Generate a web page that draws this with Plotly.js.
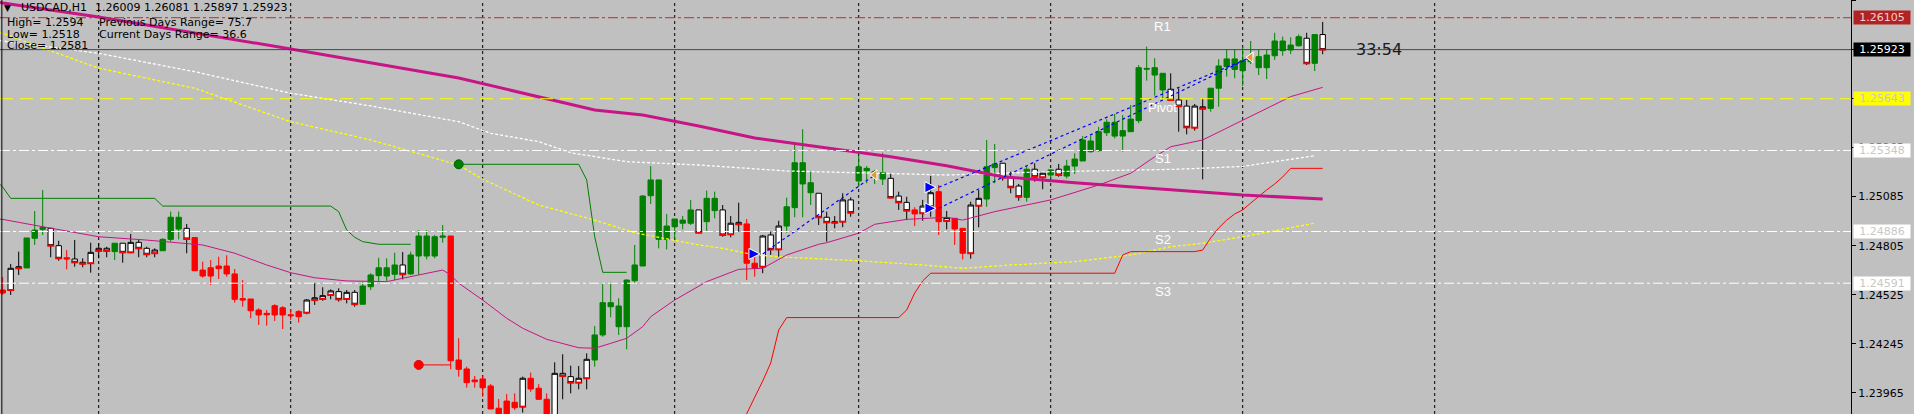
<!DOCTYPE html>
<html><head><meta charset="utf-8">
<script src="https://cdn.plot.ly/plotly-3.0.1.min.js"></script>
<style>html,body{margin:0;padding:0;background:#C0C0C0;overflow:hidden}#chart{width:1914px;height:414px}</style>
</head><body><div id="chart"></div>
<script>
// ---------------- DATA (USDCAD, H1) ----------------
const openP = [1.24552,1.24552,1.24676,1.24678,1.24847,1.24898,1.24904,1.24805,1.24736,1.24729,
1.24710,1.24705,1.24775,1.24790,1.24771,1.24819,1.24767,1.24824,1.24790,1.24762,
1.24776,1.24841,1.24967,1.24904,1.24851,1.24666,1.24632,1.24674,1.24689,1.24644,
1.24503,1.24501,1.24438,1.24411,1.24410,1.24451,1.24411,1.24400,1.24423,1.24495,
1.24501,1.24524,1.24543,1.24501,1.24539,1.24471,1.24571,1.24634,1.24679,1.24642,
1.24695,1.24644,1.24746,1.24860,1.24746,1.24853,1.24860,1.24153,1.24102,1.24029,
1.24045,1.24005,1.23878,1.23834,1.23912,1.23887,1.24049,1.23992,1.23929,1.23834,
1.24077,1.24058,1.24024,1.24049,1.24153,1.24296,1.24480,1.24461,1.24343,1.24605,
1.24689,1.25090,1.25180,1.24841,1.24913,1.24951,1.24933,1.25009,1.24942,1.25075,
1.25009,1.24870,1.24938,1.24929,1.24705,1.24685,1.24866,1.24784,1.24917,1.25022,
1.25278,1.25164,1.25104,1.24967,1.24942,1.24942,1.25066,1.25174,1.25246,1.25227,
1.25221,1.25189,1.25088,1.25052,1.25009,1.24990,1.25031,1.25113,1.24946,1.24961,
1.24904,1.24762,1.25033,1.25071,1.25250,1.25275,1.25193,1.25145,1.25081,1.25241,
1.25195,1.25208,1.25241,1.25202,1.25259,1.25288,1.25402,1.25347,1.25449,1.25509,
1.25430,1.25455,1.25518,1.25816,1.25820,1.25788,1.25697,1.25636,1.25601,1.25478,
1.25597,1.25588,1.25703,1.25826,1.25870,1.25803,1.25854,1.25883,1.25820,1.25888,
1.25972,1.25921,1.25945,1.25988,1.25845,1.26009];
const highP = [1.24626,1.24701,1.24771,1.24849,1.25003,1.25122,1.24906,1.24833,1.24780,1.24837,
1.24733,1.24822,1.24820,1.24799,1.24819,1.24819,1.24872,1.24841,1.24799,1.24790,
1.24847,1.24999,1.24999,1.24929,1.24851,1.24714,1.24723,1.24742,1.24750,1.24672,
1.24609,1.24501,1.24448,1.24438,1.24471,1.24461,1.24444,1.24438,1.24501,1.24591,
1.24568,1.24556,1.24562,1.24552,1.24552,1.24600,1.24648,1.24736,1.24733,1.24765,
1.24769,1.24771,1.24894,1.24894,1.24866,1.24923,1.24860,1.24277,1.24115,1.24062,
1.24062,1.24016,1.23931,1.23959,1.23963,1.24058,1.24081,1.24015,1.23963,1.24140,
1.24186,1.24121,1.24119,1.24191,1.24347,1.24591,1.24596,1.24505,1.24613,1.24809,
1.25094,1.25259,1.25180,1.24986,1.24957,1.24974,1.25065,1.25009,1.25119,1.25113,
1.25037,1.24974,1.25050,1.24957,1.24765,1.24866,1.24885,1.24947,1.25079,1.25389,
1.25469,1.25227,1.25104,1.24999,1.24974,1.25104,1.25081,1.25316,1.25259,1.25237,
1.25335,1.25214,1.25113,1.25084,1.25024,1.25066,1.25202,1.25151,1.25003,1.24961,
1.24904,1.25056,1.25122,1.25408,1.25385,1.25275,1.25227,1.25157,1.25259,1.25275,
1.25227,1.25241,1.25271,1.25294,1.25332,1.25430,1.25430,1.25483,1.25526,1.25556,
1.25550,1.25607,1.25835,1.25940,1.25874,1.25788,1.25788,1.25702,1.25636,1.25613,
1.25645,1.25703,1.25868,1.25925,1.25921,1.25940,1.25972,1.25921,1.25921,1.26019,
1.25997,1.25993,1.26010,1.26019,1.26012,1.26081];
const lowP = [1.24524,1.24524,1.24638,1.24678,1.24809,1.24866,1.24739,1.24719,1.24670,1.24685,
1.24682,1.24651,1.24733,1.24739,1.24723,1.24708,1.24762,1.24739,1.24739,1.24739,
1.24776,1.24828,1.24841,1.24762,1.24662,1.24622,1.24581,1.24615,1.24628,1.24480,
1.24457,1.24391,1.24353,1.24349,1.24376,1.24330,1.24381,1.24366,1.24414,1.24467,
1.24491,1.24499,1.24486,1.24476,1.24457,1.24471,1.24552,1.24604,1.24604,1.24609,
1.24613,1.24638,1.24638,1.24727,1.24733,1.24822,1.24100,1.24058,1.23995,1.23995,
1.23944,1.23874,1.23822,1.23822,1.23868,1.23853,1.23972,1.23925,1.23822,1.23822,
1.23929,1.23963,1.23986,1.23986,1.24115,1.24286,1.24397,1.24296,1.24214,1.24587,
1.24689,1.25043,1.24790,1.24784,1.24841,1.24898,1.24923,1.24876,1.24885,1.24961,
1.24856,1.24853,1.24885,1.24609,1.24628,1.24648,1.24752,1.24742,1.24879,1.24967,
1.24967,1.25037,1.24923,1.24828,1.24904,1.24910,1.24970,1.25141,1.25161,1.25157,
1.25151,1.25075,1.25009,1.24951,1.24917,1.24947,1.24970,1.24866,1.24898,1.24809,
1.24727,1.24731,1.24910,1.25027,1.25161,1.25176,1.25104,1.25061,1.25056,1.25170,
1.25127,1.25189,1.25198,1.25189,1.25214,1.25288,1.25335,1.25341,1.25430,1.25417,
1.25341,1.25455,1.25503,1.25746,1.25660,1.25645,1.25632,1.25455,1.25440,1.25461,
1.25183,1.25569,1.25597,1.25769,1.25760,1.25715,1.25841,1.25778,1.25755,1.25864,
1.25888,1.25898,1.25940,1.25835,1.25801,1.25897];
const closeP = [1.24535,1.24676,1.24685,1.24849,1.24894,1.24910,1.24805,1.24733,1.24729,1.24710,
1.24702,1.24767,1.24790,1.24775,1.24819,1.24767,1.24824,1.24790,1.24756,1.24780,
1.24841,1.24967,1.24900,1.24843,1.24662,1.24632,1.24679,1.24689,1.24644,1.24499,
1.24495,1.24434,1.24410,1.24419,1.24463,1.24410,1.24406,1.24429,1.24495,1.24508,
1.24520,1.24547,1.24499,1.24539,1.24471,1.24575,1.24638,1.24679,1.24632,1.24695,
1.24642,1.24752,1.24860,1.24746,1.24856,1.24860,1.24149,1.24100,1.24024,1.24039,
1.23995,1.23874,1.23834,1.23919,1.23881,1.24049,1.23988,1.23929,1.23834,1.24077,
1.24062,1.24024,1.24049,1.24157,1.24296,1.24480,1.24457,1.24343,1.24609,1.24695,
1.25088,1.25180,1.24841,1.24917,1.24957,1.24933,1.25009,1.24879,1.25075,1.25005,
1.24866,1.24933,1.24927,1.24705,1.24676,1.24860,1.24784,1.24917,1.25027,1.25278,
1.25157,1.25107,1.24967,1.24938,1.24936,1.25066,1.24993,1.25255,1.25233,1.25218,
1.25185,1.25079,1.25052,1.25005,1.24986,1.25031,1.25107,1.24942,1.24965,1.24900,
1.24762,1.25037,1.25075,1.25255,1.25271,1.25193,1.25138,1.25084,1.25241,1.25198,
1.25218,1.25237,1.25208,1.25259,1.25299,1.25408,1.25341,1.25455,1.25509,1.25430,
1.25461,1.25527,1.25820,1.25812,1.25778,1.25693,1.25636,1.25601,1.25480,1.25601,
1.25586,1.25703,1.25830,1.25870,1.25810,1.25860,1.25879,1.25820,1.25892,1.25972,
1.25917,1.25949,1.25997,1.25845,1.26009,1.25923];
// candle colouring state: g = green, w = white, r = red
const candleState = "rwwgggwwrw" + "wwwwgwwwww" + "gggwrrrrrr" + "rrrrrrrrww" + "wwwwwggggg" +
  "wgggggrrrr" + "rrrrrwrrrw" + "wwwwgggggg" + "gggggggwgg" + "wwwrrwwwgg" +
  "ggwwwwwggg" + "gwwwrwwrwr" + "rwwggwwwgw" + "wgwggggggg" + "ggggggwwww" +
  "wggggggggg" + "gggwgw";

// slow MA (thick magenta)
const maSlowIdx = [-1, 0, 12, 36, 57, 74, 80, 87, 94, 102, 111, 118, 125, 134, 142, 150, 155, 165];
const maSlowVal = [1.26197, 1.26189, 1.26109, 1.25927, 1.25761, 1.25579, 1.25550, 1.25488, 1.25419, 1.25369, 1.25312, 1.25261, 1.25198, 1.25164, 1.25138, 1.25113, 1.25094, 1.25071];
// fast MA (thin magenta)
const maFastIdx = [-1,0,5,12,18,25,29,33,36,39,43,48,52,55,56,57,60,63,65,68,72,74,76,78,80,81,84,87,88,92,95,98,102,103,107,109,113,118,120,124,131,137,141,144,146,150,155,161,165];
const maFastVal = [1.24957,1.24955,1.24913,1.24856,1.24837,1.24809,1.24762,1.24695,1.24651,1.24622,1.24604,1.24600,1.24638,1.24666,1.24638,1.24591,1.24495,1.24391,1.24334,1.24271,1.24223,1.24220,1.24248,1.24277,1.24343,1.24400,1.24495,1.24571,1.24600,1.24670,1.24676,1.24752,1.24813,1.24822,1.24876,1.24927,1.24955,1.24967,1.24951,1.24999,1.25066,1.25151,1.25218,1.25312,1.25369,1.25408,1.25522,1.25655,1.25708];
// white dotted MA
const maWhiteIdx = [-1, 0, 12, 24, 36, 46, 57, 61, 67, 71, 78, 84, 87, 98, 107, 118, 131, 141, 147, 155, 164];
const maWhiteVal = [1.25980, 1.25972, 1.25902, 1.25797, 1.25674, 1.25602, 1.25512, 1.25446, 1.25398, 1.25335, 1.25284, 1.25271, 1.25265, 1.25231, 1.25221, 1.25208, 1.25227, 1.25237, 1.25241, 1.25257, 1.25318];
// yellow dotted MA
const maYellowIdx = [-1, 0, 12, 24, 36, 46, 57, 60, 67, 74, 79, 87, 90, 94, 98, 107, 115, 120, 126, 134, 141, 146, 150, 155, 164];
const maYellowVal = [1.26022, 1.26016, 1.25817, 1.25703, 1.25512, 1.25408, 1.25265, 1.25184, 1.25037, 1.24951, 1.24879, 1.24809, 1.24790, 1.24752, 1.24739, 1.24719, 1.24695, 1.24676, 1.24695, 1.24714, 1.24752, 1.24799, 1.24819, 1.24856, 1.24933];
// upper channel (green) and lower channel (red)
const upperIdx = [-1, 0, 1, 19, 20, 41, 42, 43, 44, 45, 47, 51, null, 57, 72, 73, 74, 75, 78];
const upperVal = [1.25180, 1.25140, 1.25075, 1.25075, 1.25031, 1.25031, 1.24999, 1.24894, 1.24853, 1.24828, 1.24813, 1.24813, null, 1.25269, 1.25269, 1.25180, 1.24856, 1.24653, 1.24653];
const lowerIdx = [52, 56, null, 92, 93, 94, 95, 96, 97, 98, 112, 113, 114, 115, 116, 139, 140, 141, 149, 150, 151, 152, 153, 154, 155, 156, 157, 158, 159, 160, 161, 165];
const lowerVal = [1.24125, 1.24125, null, 1.23754, 1.23845, 1.23936, 1.24033, 1.24136, 1.24324, 1.24395, 1.24395, 1.24438, 1.24535, 1.24604, 1.24648, 1.24648, 1.24752, 1.24771, 1.24771, 1.24780, 1.24849, 1.24906, 1.24951, 1.24986, 1.25009, 1.25048, 1.25088, 1.25123, 1.25157, 1.25197, 1.25246, 1.25246];
const upperDotIdx = [57], upperDotVal = [1.25269];
const lowerDotIdx = [52], lowerDotVal = [1.24125];
// trades
const tradeOpenIdx = [95, 117, 117];
const tradeOpenPrice = [1.24758, 1.25138, 1.25018];
const tradeCloseIdx = [109, 156, 156];
const tradeClosePrice = [1.25208, 1.25879, 1.25879];
// pivot levels
const levelNames = ["R1", "Pivot", "S1", "S2", "S3"];
const levelValues = [1.26105, 1.25643, 1.25348, 1.24886, 1.24591];
const bidPrice = 1.25923;
// day separators (bar index)
const daySeparators = [12, 36, 60, 84, 107, 131, 155, 179];
// y ticks
const yTicks = [1.23965, 1.24245, 1.24525, 1.24805, 1.25085, 1.25365, 1.25645, 1.25925, 1.26205];
const info = {symbol: "USDCAD,H1", high: "1.2594", low: "1.2518", close: "1.2581", prevRange: "75.7", curRange: "36.6", timer: "33:54"};

// ---------------- CHART ----------------
const N = openP.length;
const idx = Array.from({length: N}, (_, i) => i);
const FONT = 'DejaVu Sans';
const styles = {
  g: {line: '#008000', fill: '#008000'},
  w: {line: '#000000', fill: '#FFFFFF'},
  r: {line: '#FF0000', fill: '#FF0000'}
};
const traces = [];
['g', 'w', 'r'].forEach(k => {
  const ids = idx.filter(i => candleState[i] === k);
  const st = {line: {color: styles[k].line, width: 1}, fillcolor: styles[k].fill};
  traces.push({
    type: 'candlestick', x: ids,
    open: ids.map(i => openP[i]), high: ids.map(i => highP[i]),
    low: ids.map(i => lowP[i]), close: ids.map(i => closeP[i]),
    increasing: st, decreasing: st, whiskerwidth: 0, hoverinfo: 'skip', showlegend: false
  });
});
// red mark on the bottom of white bodies
const wIds = idx.filter(i => candleState[i] === 'w');
traces.push({type: 'scatter', mode: 'markers', x: wIds, y: wIds.map(i => Math.min(openP[i], closeP[i])),
  marker: {symbol: 'line-ew', size: 5, line: {color: '#FF0000', width: 2}}, hoverinfo: 'skip'});

function line(xs, ys, color, width, dash) {
  return {type: 'scatter', mode: 'lines', x: xs, y: ys, connectgaps: false,
    line: {color: color, width: width, dash: dash || 'solid', shape: 'linear'}, hoverinfo: 'skip'};
}
traces.push(line(maYellowIdx, maYellowVal, '#FFFF00', 1.3, '3px,2px'));
traces.push(line(maWhiteIdx, maWhiteVal, '#FFFFFF', 1.3, '3px,2px'));
traces.push(line(upperIdx, upperVal, '#008000', 1));
traces.push(line(lowerIdx, lowerVal, '#FF0000', 1));
traces.push(line(maFastIdx, maFastVal, '#C71585', 1));
traces.push(line(maSlowIdx, maSlowVal, '#C71585', 3));
// trade lines
const tx = [], ty = [];
tradeOpenIdx.forEach((o, k) => { tx.push(o, tradeCloseIdx[k], null); ty.push(tradeOpenPrice[k], tradeClosePrice[k], null); });
traces.push(line(tx, ty, '#0000FF', 1.2, '3px,3px'));
traces.push({type: 'scatter', mode: 'markers', x: tradeOpenIdx.map(i => i - 0.35), y: tradeOpenPrice,
  marker: {symbol: 'arrow-right', size: 11, color: '#0000FF', line: {color: '#FFFFFF', width: 1}}, hoverinfo: 'skip'});
traces.push({type: 'scatter', mode: 'markers', x: tradeCloseIdx, y: tradeClosePrice,
  marker: {symbol: 'triangle-left', size: 9, color: '#E39B35', line: {color: '#FFFFFF', width: 1}}, hoverinfo: 'skip'});
traces.push({type: 'scatter', mode: 'markers', x: upperDotIdx, y: upperDotVal,
  marker: {symbol: 'circle', size: 9, color: '#008000', line: {color: '#006000', width: 1}}, hoverinfo: 'skip'});
traces.push({type: 'scatter', mode: 'markers', x: lowerDotIdx, y: lowerDotVal,
  marker: {symbol: 'circle', size: 9, color: '#FF0000', line: {color: '#E00000', width: 1}}, hoverinfo: 'skip'});

const shapes = [];
daySeparators.forEach(d => shapes.push({type: 'line', xref: 'x', yref: 'paper', x0: d, x1: d, y0: 0, y1: 1,
  line: {color: '#000000', width: 1, dash: '3px,3px'}, layer: 'below'}));
const levelStyle = [
  {color: '#CD2626', dash: '10px,3px,3px,3px'},
  {color: '#FFFF00', dash: '13px,7px'},
  {color: '#FFFFFF', dash: '10px,3px,3px,3px'},
  {color: '#FFFFFF', dash: '10px,3px,3px,3px'},
  {color: '#FFFFFF', dash: '10px,3px,3px,3px'}
];
levelValues.forEach((v, k) => shapes.push({type: 'line', xref: 'paper', yref: 'y', x0: 0, x1: 1, y0: v, y1: v,
  line: {color: levelStyle[k].color, width: 1, dash: levelStyle[k].dash}, layer: 'above'}));
shapes.push({type: 'line', xref: 'paper', yref: 'y', x0: 0, x1: 1, y0: bidPrice, y1: bidPrice,
  line: {color: '#2F4F4F', width: 1}, layer: 'above'});
shapes.push({type: 'line', xref: 'paper', yref: 'paper', x0: 0.001, x1: 0.001, y0: 0, y1: 1,
  line: {color: '#000000', width: 1}, layer: 'above'});

const PW = 1851, PH = 414;
function txt(text, px, py, opts) {
  return Object.assign({xref: 'paper', yref: 'paper', x: px / PW, y: 1 - py / PH, text: text,
    showarrow: false, xanchor: 'left', yanchor: 'middle',
    font: {family: FONT, size: 11, color: '#000000'}}, opts || {});
}
const annotations = [
  txt('▼', 7, 8, {xanchor: 'center', font: {family: FONT, size: 9, color: '#000'}}),
  txt(info.symbol, 19, 8),
  txt([openP[N-1], highP[N-1], lowP[N-1], closeP[N-1]].map(v => v.toFixed(5)).join(' '), 93, 8),
  txt('High= ' + info.high, 5, 22),
  txt('Previous Days Range= ' + info.prevRange, 97, 22),
  txt('Low= ' + info.low, 5, 34),
  txt('Current Days Range= ' + info.curRange, 97, 34),
  txt('Close= ' + info.close, 5, 45),
  {xref: 'paper', yref: 'y', x: 1354 / PW, y: bidPrice, text: info.timer, showarrow: false,
    xanchor: 'left', yanchor: 'middle', font: {family: FONT, size: 16, color: '#1A1A1A'}}
];
levelNames.forEach((n, k) => annotations.push({xref: 'x', yref: 'y', x: 145, y: levelValues[k], text: n,
  showarrow: false, xanchor: 'center', yanchor: 'top', yshift: 1,
  font: {family: 'Liberation Sans', size: 13, color: '#FFFFFF'}}));
const boxStyle = [
  {bg: '#B22222', fg: '#F2CFCF'}, {bg: '#FFFF00', fg: '#C8C8C8'},
  {bg: '#FFFFFF', fg: '#C8C8C8'}, {bg: '#FFFFFF', fg: '#C8C8C8'}, {bg: '#FFFFFF', fg: '#C8C8C8'}
];
function box(v, s) {
  return {xref: 'paper', yref: 'y', x: 1, xshift: 2, y: v, text: v.toFixed(5), showarrow: false,
    xanchor: 'left', yanchor: 'middle', width: 56, height: 13, borderpad: 0, align: 'center',
    bgcolor: s.bg, font: {family: FONT, size: 11, color: s.fg}};
}
levelValues.forEach((v, k) => annotations.push(box(v, boxStyle[k])));
annotations.push(box(bidPrice, {bg: '#000000', fg: '#FFFFFF'}));

const layout = {
  width: 1914, height: 414,
  margin: {l: 0, r: 1914 - PW, t: 0, b: 0, pad: 0},
  paper_bgcolor: '#C0C0C0', plot_bgcolor: '#C0C0C0',
  showlegend: false, hovermode: false,
  boxgap: 0.33, boxgroupgap: 0, boxmode: 'overlay',
  xaxis: {range: [-0.3375, (PW - 2.7) / 8], visible: false, fixedrange: true, rangeslider: {visible: false}},
  yaxis: {range: [1.26206 - PH / 17536, 1.26206], side: 'right', showgrid: false, zeroline: false,
    showline: true, linecolor: '#000000', linewidth: 1, ticks: 'outside', ticklen: 4, tickcolor: '#000000',
    tickvals: yTicks, ticktext: yTicks.map(v => v.toFixed(5)),
    tickfont: {family: FONT, size: 11, color: '#000000'}, fixedrange: true},
  shapes: shapes, annotations: annotations
};
Plotly.newPlot('chart', traces, layout, {displayModeBar: false, staticPlot: true});
</script>
</body></html>
